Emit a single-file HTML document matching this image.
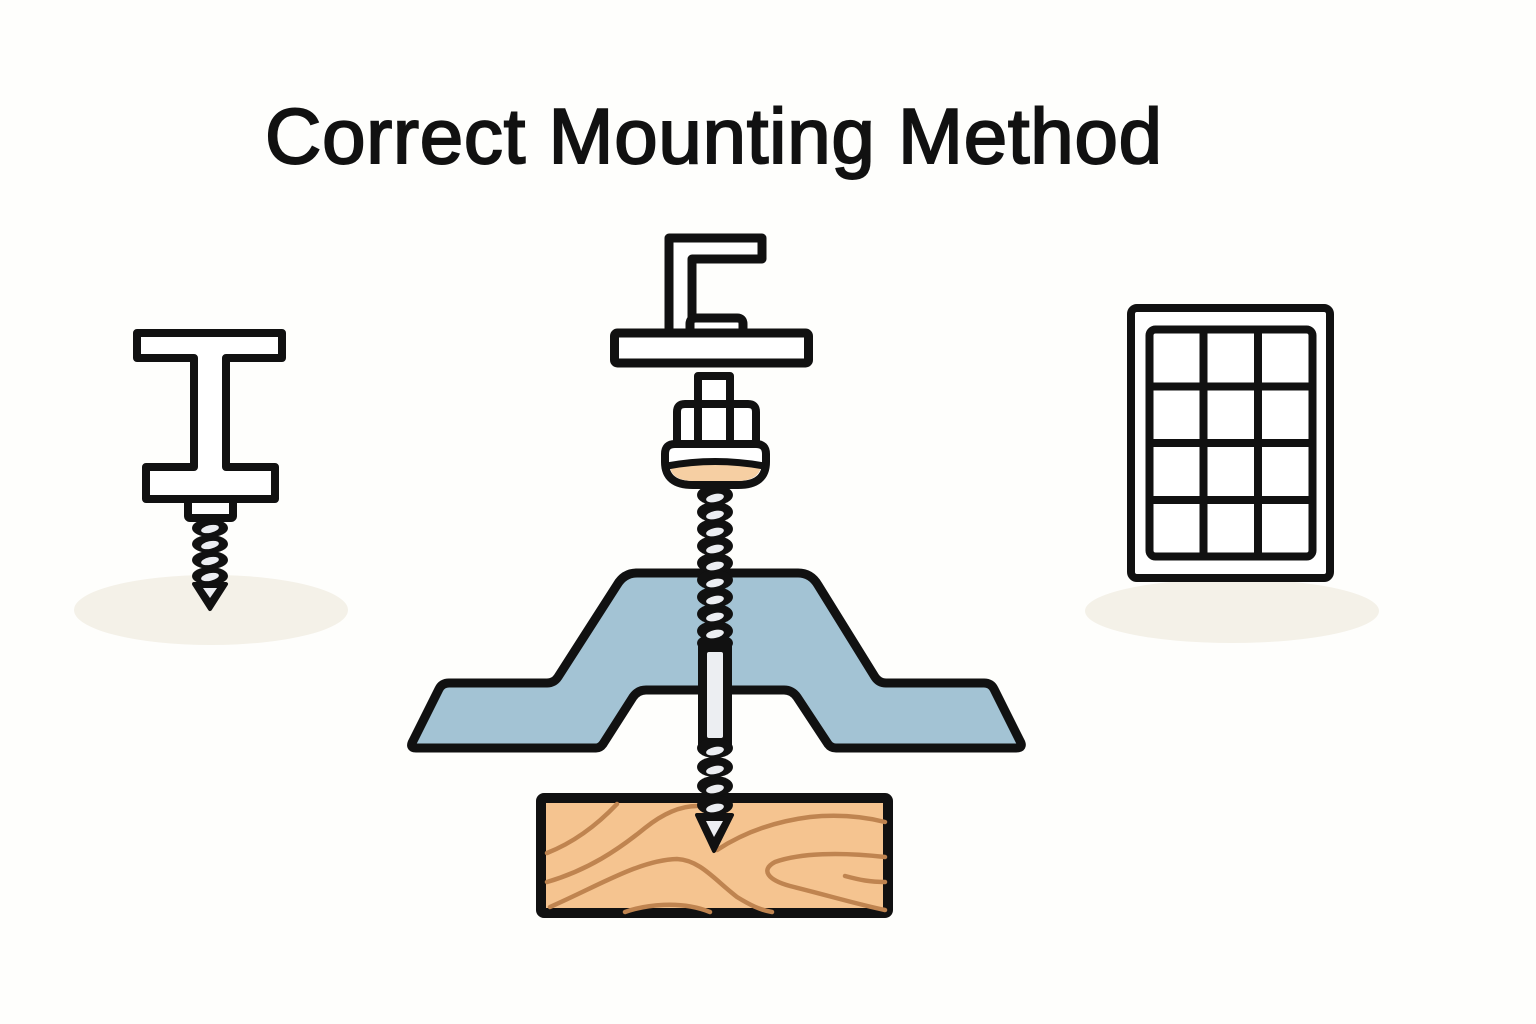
<!DOCTYPE html>
<html>
<head>
<meta charset="utf-8">
<style>
  html,body{margin:0;padding:0;background:#fefefc;}
  svg{display:block;}
</style>
</head>
<body>
<svg width="1536" height="1024" viewBox="0 0 1536 1024" xmlns="http://www.w3.org/2000/svg">
  <rect x="0" y="0" width="1536" height="1024" fill="#fefefc"/>

  <!-- Title -->
  <text x="265" y="163" font-family="Liberation Sans, Arial, sans-serif" font-size="78" fill="#111" stroke="#111" stroke-width="2" textLength="897" lengthAdjust="spacing">Correct Mounting Method</text>

  <!-- Shadows -->
  <ellipse cx="211" cy="610" rx="137" ry="35" fill="#f4f1e8"/>
  <ellipse cx="1232" cy="611" rx="147" ry="32" fill="#f4f1e8"/>

  <!-- Left I-beam -->
  <g stroke="#111" stroke-width="8" stroke-linejoin="round" fill="#fff">
    <path d="M137,333 H282 V358 H226 V467 H275 V499 H146 V467 H194 V358 H137 Z"/>
    <rect x="188" y="499" width="45" height="19" rx="2"/>
  </g>
  <!-- left small screw -->
  <g>
    <ellipse cx="210" cy="528" rx="18" ry="9" fill="#111"/>
    <ellipse cx="210" cy="544" rx="18" ry="9" fill="#111"/>
    <ellipse cx="210" cy="560" rx="18" ry="9" fill="#111"/>
    <ellipse cx="210" cy="576" rx="18" ry="9" fill="#111"/>
    <path d="M194,584 L210,609 L226,584 Z" fill="#111" stroke="#111" stroke-width="4" stroke-linejoin="round"/>
    <ellipse cx="210" cy="529" rx="9" ry="3.8" fill="#eceef2" transform="rotate(-12 210 529)"/>
    <ellipse cx="210" cy="545" rx="9" ry="3.8" fill="#eceef2" transform="rotate(-12 210 545)"/>
    <ellipse cx="210" cy="561" rx="9" ry="3.8" fill="#eceef2" transform="rotate(-12 210 561)"/>
    <ellipse cx="210" cy="577" rx="9" ry="3.8" fill="#eceef2" transform="rotate(-12 210 577)"/>
    <path d="M203,588 L210,598 L217,588 Z" fill="#eceef2"/>
  </g>

  <!-- Solar panel -->
  <g stroke="#111" stroke-width="8" fill="#fff" stroke-linejoin="round">
    <rect x="1131" y="308" width="199" height="270" rx="6"/>
    <rect x="1149.5" y="329.5" width="163" height="227" rx="6"/>
    <line x1="1203.5" y1="329.5" x2="1203.5" y2="556.5"/>
    <line x1="1258" y1="329.5" x2="1258" y2="556.5"/>
    <line x1="1149.5" y1="386.5" x2="1312.5" y2="386.5"/>
    <line x1="1149.5" y1="443" x2="1312.5" y2="443"/>
    <line x1="1149.5" y1="500" x2="1312.5" y2="500"/>
  </g>

  <!-- Roof panel -->
  <path d="M416,748 L596,748 Q600,748 603,744 L633,697 Q638,690 646,690 L784,690 Q792,690 797,697 L828,744 Q831,748 836,748 L1016,748 Q1024,748 1020,741 L994,689 Q991,683 984,683 L886,683 Q879,683 875,677 L818,585 Q811,573 798,573 L637,573 Q624,573 617,585 L558,677 Q554,683 547,683 L449,683 Q442,683 439,689 L413,741 Q409,748 416,748 Z"
        fill="#a3c3d4" stroke="#111" stroke-width="9" stroke-linejoin="round"/>

  <!-- Wood block -->
  <rect x="541" y="798" width="347" height="115" rx="3" fill="#f5c490" stroke="#111" stroke-width="10"/>
  <g fill="none" stroke="#bf8450" stroke-width="4.5" stroke-linecap="round">
    <path d="M547,853 C575,842 598,824 617,804"/>
    <path d="M547,882 C588,870 618,850 645,828 C665,812 682,806 697,806"/>
    <path d="M550,907 C600,885 640,860 677,859 C700,860 715,880 737,897 C750,905 760,910 772,912"/>
    <path d="M625,912 C645,905 680,900 710,912"/>
    <path d="M717,850 C740,835 770,822 810,817 C840,814 865,817 885,822"/>
    <path d="M885,857 C840,852 800,853 775,862 C760,870 768,880 790,886 C830,896 860,905 885,910"/>
    <path d="M845,876 C860,880 870,882 885,882"/>
  </g>

  <!-- Center screw -->
  <g>
    <g fill="#111">
      <ellipse cx="715" cy="495" rx="18" ry="10"/>
      <ellipse cx="715" cy="512" rx="18" ry="10"/>
      <ellipse cx="715" cy="529" rx="18" ry="10"/>
      <ellipse cx="715" cy="546" rx="18" ry="10"/>
      <ellipse cx="715" cy="563" rx="18" ry="10"/>
      <ellipse cx="715" cy="580" rx="18" ry="10"/>
      <ellipse cx="715" cy="597" rx="18" ry="10"/>
      <ellipse cx="715" cy="614" rx="18" ry="10"/>
      <ellipse cx="715" cy="631" rx="18" ry="10"/>
      <ellipse cx="715" cy="643" rx="18" ry="9"/>
      <rect x="698" y="645" width="34" height="100"/>
      <ellipse cx="715" cy="748" rx="18" ry="10"/>
      <ellipse cx="715" cy="767" rx="18" ry="10"/>
      <ellipse cx="715" cy="786" rx="18" ry="10"/>
      <ellipse cx="715" cy="805" rx="18" ry="10"/>
      <path d="M697,815 L714,851 L732,815 Z" stroke="#111" stroke-width="4" stroke-linejoin="round"/>
    </g>
    <g fill="#eceef2">
      <ellipse cx="715" cy="498" rx="9" ry="4" transform="rotate(-12 715 498)"/>
      <ellipse cx="715" cy="515" rx="9" ry="4" transform="rotate(-12 715 515)"/>
      <ellipse cx="715" cy="532" rx="9" ry="4" transform="rotate(-12 715 532)"/>
      <ellipse cx="715" cy="549" rx="9" ry="4" transform="rotate(-12 715 549)"/>
      <ellipse cx="715" cy="566" rx="9" ry="4" transform="rotate(-12 715 566)"/>
      <ellipse cx="715" cy="583" rx="9" ry="4" transform="rotate(-12 715 583)"/>
      <ellipse cx="715" cy="600" rx="9" ry="4" transform="rotate(-12 715 600)"/>
      <ellipse cx="715" cy="617" rx="9" ry="4" transform="rotate(-12 715 617)"/>
      <ellipse cx="715" cy="634" rx="9" ry="4" transform="rotate(-12 715 634)"/>
      <rect x="707" y="652" width="16" height="86" rx="2"/>
      <ellipse cx="715" cy="751" rx="9" ry="4" transform="rotate(-12 715 751)"/>
      <ellipse cx="715" cy="770" rx="9" ry="4" transform="rotate(-12 715 770)"/>
      <ellipse cx="715" cy="789" rx="9" ry="4" transform="rotate(-12 715 789)"/>
      <ellipse cx="715" cy="808" rx="9" ry="4" transform="rotate(-12 715 808)"/>
      <path d="M706,821 L714,837 L723,821 Z"/>
    </g>
  </g>

  <!-- Washer -->
  <path d="M675,444 H756 Q766,444 766,454 V462 Q766,485 738,485 H693 Q665,485 665,462 V454 Q665,444 675,444 Z" fill="#fff" stroke="#111" stroke-width="8" stroke-linejoin="round"/>
  <path d="M670,467 Q715,459 761,467 Q758,481 737,481 H694 Q672,481 670,467 Z" fill="#f6cfa3"/>
  <path d="M667,466 Q715,457 764,466" fill="none" stroke="#111" stroke-width="7"/>

  <!-- Stem + Nut -->
  <g stroke="#111" stroke-width="8" stroke-linejoin="round" fill="#fff">
    <rect x="698" y="376" width="32" height="30"/>
    <path d="M677,444 V412 Q677,404 685,404 H748 Q756,404 756,412 V444 Z"/>
    <line x1="698" y1="404" x2="698" y2="444"/>
    <line x1="730" y1="404" x2="730" y2="444"/>
  </g>

  <!-- L-bracket + plate -->
  <g stroke="#111" stroke-width="9" stroke-linejoin="round" fill="#fff">
    <path d="M669,333 V238 H762 V259 H692 V333 Z"/>
    <path d="M690,333 V324 Q690,318 696,318 H737 Q743,318 743,324 V333 Z"/>
    <rect x="614.5" y="333" width="194" height="30" rx="3"/>
  </g>
</svg>
</body>
</html>
